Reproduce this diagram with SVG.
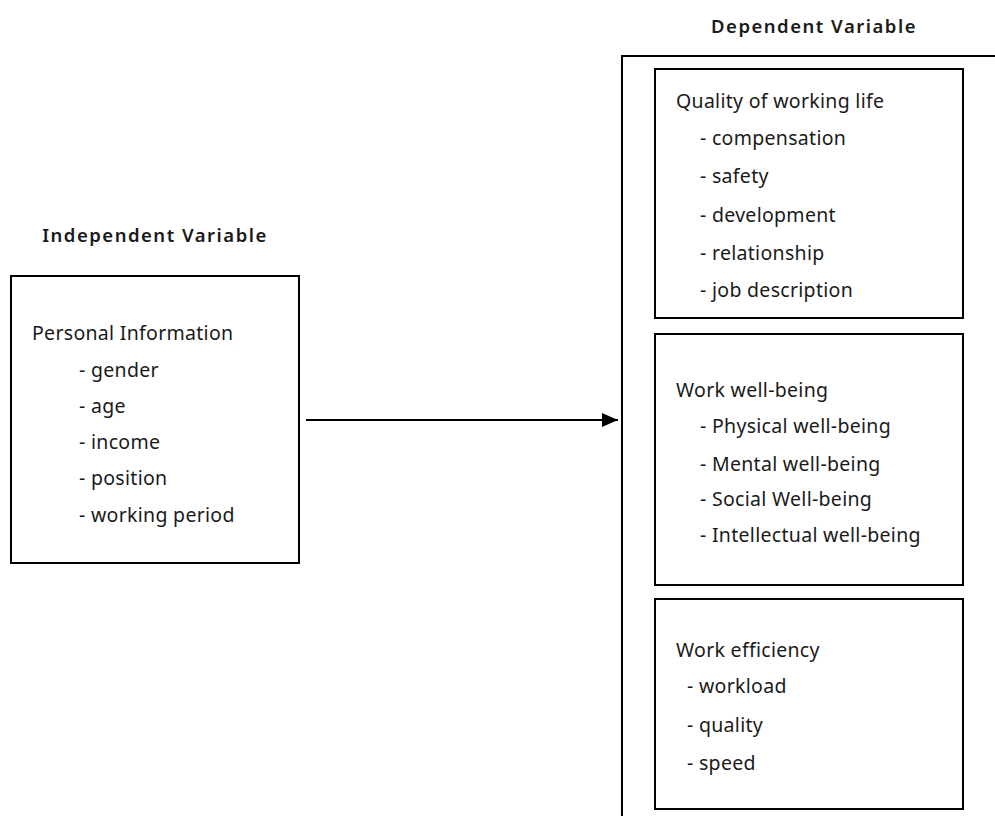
<svg xmlns="http://www.w3.org/2000/svg" width="995" height="816" viewBox="0 0 995 816">
<style>
text{font-family:"Noto Sans","Open Sans",sans-serif;fill:#1a1a1a;font-size:19.5px;letter-spacing:0.3px}
.t{font-weight:600;font-size:18.5px;letter-spacing:1.5px}
.box{fill:#fff;stroke:#000;stroke-width:2}
.ln{fill:none;stroke:#000;stroke-width:2}
</style>
<defs>
<marker id="ah" markerWidth="16" markerHeight="14" refX="16" refY="7" orient="auto" markerUnits="userSpaceOnUse">
<path d="M0,0 L16,7 L0,14 Z" fill="#000"/>
</marker>
</defs>
<rect width="995" height="816" fill="#fff"/>
<g id="independent">
<text class="t" x="155" y="242" text-anchor="middle">Independent Variable</text>
<rect class="box" x="11" y="276" width="288" height="287" stroke-width="1.5"/>
<text x="32" y="340">Personal Information</text>
<text x="79" y="377">- gender</text>
<text x="79" y="413">- age</text>
<text x="79" y="449">- income</text>
<text x="79" y="485">- position</text>
<text x="79" y="522">- working period</text>
</g>
<g id="dependent">
<text class="t" x="814" y="33" text-anchor="middle">Dependent Variable</text>
<path class="ln" d="M622,816 V56 H995"/>
</g>
<g id="quality">
<rect class="box" x="655" y="69" width="308" height="249"/>
<text x="676" y="108">Quality of working life</text>
<text x="700" y="145">- compensation</text>
<text x="700" y="183">- safety</text>
<text x="700" y="222">- development</text>
<text x="700" y="260">- relationship</text>
<text x="700" y="297">- job description</text>
</g>
<g id="wellbeing">
<rect class="box" x="655" y="334" width="308" height="251"/>
<text x="676" y="397">Work well-being</text>
<text x="700" y="433">- Physical well-being</text>
<text x="700" y="471">- Mental well-being</text>
<text x="700" y="506">- Social Well-being</text>
<text x="700" y="542">- Intellectual well-being</text>
</g>
<g id="efficiency">
<rect class="box" x="655" y="599" width="308" height="210"/>
<text x="676" y="657">Work efficiency</text>
<text x="687" y="693">- workload</text>
<text x="687" y="732">- quality</text>
<text x="687" y="770">- speed</text>
</g>
<g id="connectors">
<line class="ln" x1="306" y1="420" x2="618" y2="420" marker-end="url(#ah)"/>
</g>
</svg>
